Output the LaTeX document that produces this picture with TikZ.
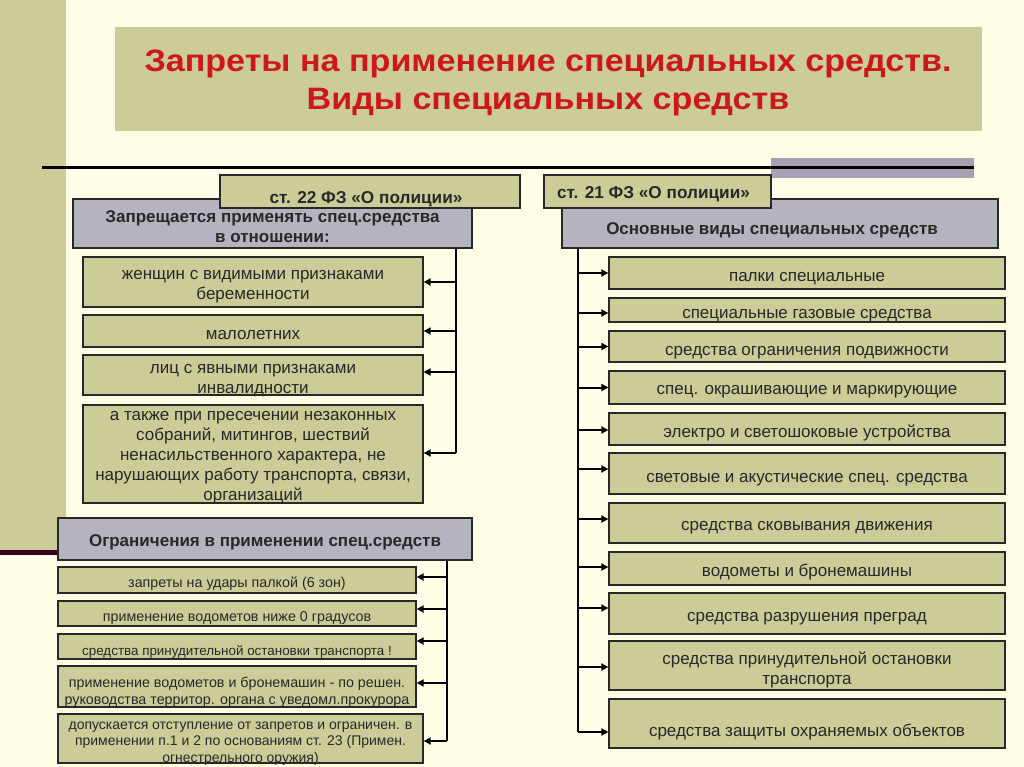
\documentclass[tikz,border=0pt]{standalone}
\usepackage{fontspec}
\setmainfont{Liberation Sans}
\usetikzlibrary{arrows.meta,calc}
\definecolor{bg}{RGB}{255,255,232}
\definecolor{khaki}{RGB}{204,204,153}
\definecolor{greybox}{RGB}{180,180,190}
\definecolor{titlered}{RGB}{204,24,24}
\definecolor{maroon}{RGB}{50,0,30}
\definecolor{lav}{RGB}{170,160,182}
\definecolor{ink}{RGB}{40,40,40}
\newcommand\mystrut{\rule[-0.212em]{0pt}{0.905em}}
% #1 text offset, #2 name, #3 styles, #4 x, #5 y, #6 width, #7 height, #8 text
\newcommand\bx[8][yshift=-4pt]{%
  \node[#3, minimum width=#6pt, minimum height=#7pt] (#2) at (#4,#5) {};
  \node[#3, draw=none, fill=none] (#2t) at ([#1]#2.center) {#8};}
\begin{document}
\begin{tikzpicture}[x=1pt,y=-1pt,
  box/.style={draw=ink, line width=1.3pt, fill=khaki, inner sep=0pt, align=center, text=ink,
    execute at begin node=\mystrut, execute at end node=\mystrut},
  itemf/.style={font=\fontsize{17}{20}\selectfont},
  smallf/.style={font=\fontsize{14.3}{17}\selectfont},
  narrowf/.style={font=\fontsize{13.4}{17}\selectfont},
  tinyf/.style={font=\fontsize{14}{16.5}\selectfont},
  headbox/.style={box, fill=greybox, font=\bfseries\fontsize{17}{20}\selectfont},
  lawbox/.style={box, font=\bfseries\fontsize{17.2}{20}\selectfont},
  titlef/.style={text=titlered, inner sep=0pt, anchor=base, font=\bfseries\fontsize{31}{38}\selectfont},
  trunk/.style={draw=black, line width=1.3pt},
  arr/.style={draw=black, line width=2pt, -{Triangle[length=7pt,width=7pt]}}
]
\useasboundingbox (0,0) rectangle (1024,767);
\fill[bg] (0,0) rectangle (1024,767);
\fill[khaki] (0,0) rectangle (66,550);
\fill[maroon] (0,550) rectangle (60,555);
\fill[lav] (771,158) rectangle (974,178);
\draw[line width=3pt] (42,168) -- (974,168);

% title
\node[fill=khaki, minimum width=867pt, minimum height=104pt] (title) at (548.5,79) {};
\node[titlef] (t1) at (548,72) {\scalebox{1.1}[1]{Запреты на применение специальных средств.}};
\node[titlef] (t2) at (548,110) {\scalebox{1.1}[1]{Виды специальных средств}};

% left column
\bx[yshift=-4.5pt]{g1}{headbox}{272.5}{223.5}{399}{49}{Запрещается применять спец.средства\\в отношении:}
\bx[xshift=-4pt,yshift=-8pt]{law22}{lawbox}{370}{191.5}{300}{33}{ст. 22 ФЗ «О полиции»}
\bx[yshift=-5pt]{l1}{box,itemf}{253}{282}{340}{50}{женщин с видимыми признаками\\беременности}
\bx[yshift=-4pt]{l2}{box,itemf}{253}{331}{340}{32}{малолетних}
\bx[yshift=-5.5pt]{l3}{box,itemf}{253}{375}{340}{40}{лиц с явными признаками\\инвалидности}
\bx[yshift=-4pt]{l4}{box,itemf}{253}{454}{340}{98}{а также при пресечении незаконных\\собраний, митингов, шествий\\ненасильственного характера, не\\нарушающих работу транспорта, связи,\\организаций}

\coordinate (tl) at (456,453);
\draw[trunk] (g1.south -| tl) -- (tl);
\draw[arr] (l1.east -| tl) -- (l1.east);
\draw[arr] (l2.east -| tl) -- (l2.east);
\draw[arr] ([yshift=3pt]l3.east -| tl) -- ([yshift=3pt]l3.east);
\draw[arr] (tl) -- (tl -| l4.east);

\bx[yshift=-3pt]{g2}{headbox}{265}{539}{414}{42}{Ограничения в применении спец.средств}
\bx[yshift=-4pt]{b1}{box,smallf}{237}{580}{358}{26}{запреты на удары палкой (6 зон)}
\bx[yshift=-5pt]{b2}{box,smallf}{237}{613.5}{358}{25}{применение водометов ниже 0 градусов}
\bx[yshift=-5pt]{b3}{box,narrowf}{237}{646.5}{358}{25}{средства принудительной остановки транспорта !}
\bx[yshift=-6pt]{b4}{box,smallf}{237}{686.5}{358}{41}{применение водометов и бронемашин - по решен.\\руководства территор. органа с уведомл.прокурора}
\bx[yshift=-5pt]{b5}{box,tinyf}{240.5}{738.5}{365}{49}{допускается отступление от запретов и ограничен. в\\применении п.1 и 2 по основаниям ст. 23 (Примен.\\огнестрельного оружия)}

\coordinate (tb) at (447,741);
\draw[trunk] (g2.south -| tb) -- (tb);
\draw[arr] ([yshift=3pt]b1.east -| tb) -- ([yshift=3pt]b1.east);
\draw[arr] ([yshift=4.5pt]b2.east -| tb) -- ([yshift=4.5pt]b2.east);
\draw[arr] ([yshift=5.5pt]b3.east -| tb) -- ([yshift=5.5pt]b3.east);
\draw[arr] ([yshift=3.5pt]b4.east -| tb) -- ([yshift=3.5pt]b4.east);
\draw[arr] (tb) -- (tb -| b5.east);

% right column
\bx[xshift=-8pt,yshift=-7pt]{g3}{headbox}{780}{223.5}{436}{49}{Основные виды специальных средств}
\bx[xshift=-4pt,yshift=-3pt]{law21}{lawbox}{657.5}{191.5}{227}{33}{ст. 21 ФЗ «О полиции»}
\bx[yshift=-4pt]{r1}{box,itemf}{807}{273}{396}{32}{палки специальные}
\bx[yshift=-4.5pt]{r2}{box,itemf}{807}{310}{396}{24}{специальные газовые средства}
\bx[yshift=-5pt]{r3}{box,itemf}{807}{346.5}{396}{31}{средства ограничения подвижности}
\bx[yshift=-3pt]{r4}{box,itemf}{807}{387.5}{396}{33}{спец. окрашивающие и маркирующие}
\bx[yshift=-4pt]{r5}{box,itemf}{807}{429}{396}{32}{электро и светошоковые устройства}
\bx[yshift=-5pt]{r6}{box,itemf}{807}{473.5}{396}{41}{световые и акустические спец. средства}
\bx[yshift=-3pt]{r7}{box,itemf}{807}{523}{396}{40}{средства сковывания движения}
\bx[yshift=-4pt]{r8}{box,itemf}{807}{568.5}{396}{33}{водометы и бронемашины}
\bx[yshift=-4pt]{r9}{box,itemf}{807}{613.5}{396}{41}{средства разрушения преград}
\bx[yshift=-4pt]{r10}{box,itemf}{807}{665.5}{396}{49}{средства принудительной остановки\\транспорта}
\bx[yshift=-9pt]{r11}{box,itemf}{807}{723.5}{396}{49}{средства защиты охраняемых объектов}

\coordinate (tr) at (578,732);
\draw[trunk] (g3.south -| tr) -- (tr);
\draw[arr] (r1.west -| tr) -- (r1.west);
\draw[arr] ([yshift=-3pt]r2.west -| tr) -- ([yshift=-3pt]r2.west);
\draw[arr] (r3.west -| tr) -- (r3.west);
\draw[arr] (r4.west -| tr) -- (r4.west);
\draw[arr] ([yshift=-1pt]r5.west -| tr) -- ([yshift=-1pt]r5.west);
\draw[arr] ([yshift=4.5pt]r6.west -| tr) -- ([yshift=4.5pt]r6.west);
\draw[arr] ([yshift=4pt]r7.west -| tr) -- ([yshift=4pt]r7.west);
\draw[arr] ([yshift=1.5pt]r8.west -| tr) -- ([yshift=1.5pt]r8.west);
\draw[arr] ([yshift=5.5pt]r9.west -| tr) -- ([yshift=5.5pt]r9.west);
\draw[arr] ([yshift=-1.5pt]r10.west -| tr) -- ([yshift=-1.5pt]r10.west);
\draw[arr] (tr) -- (tr -| r11.west);
\end{tikzpicture}
\end{document}
